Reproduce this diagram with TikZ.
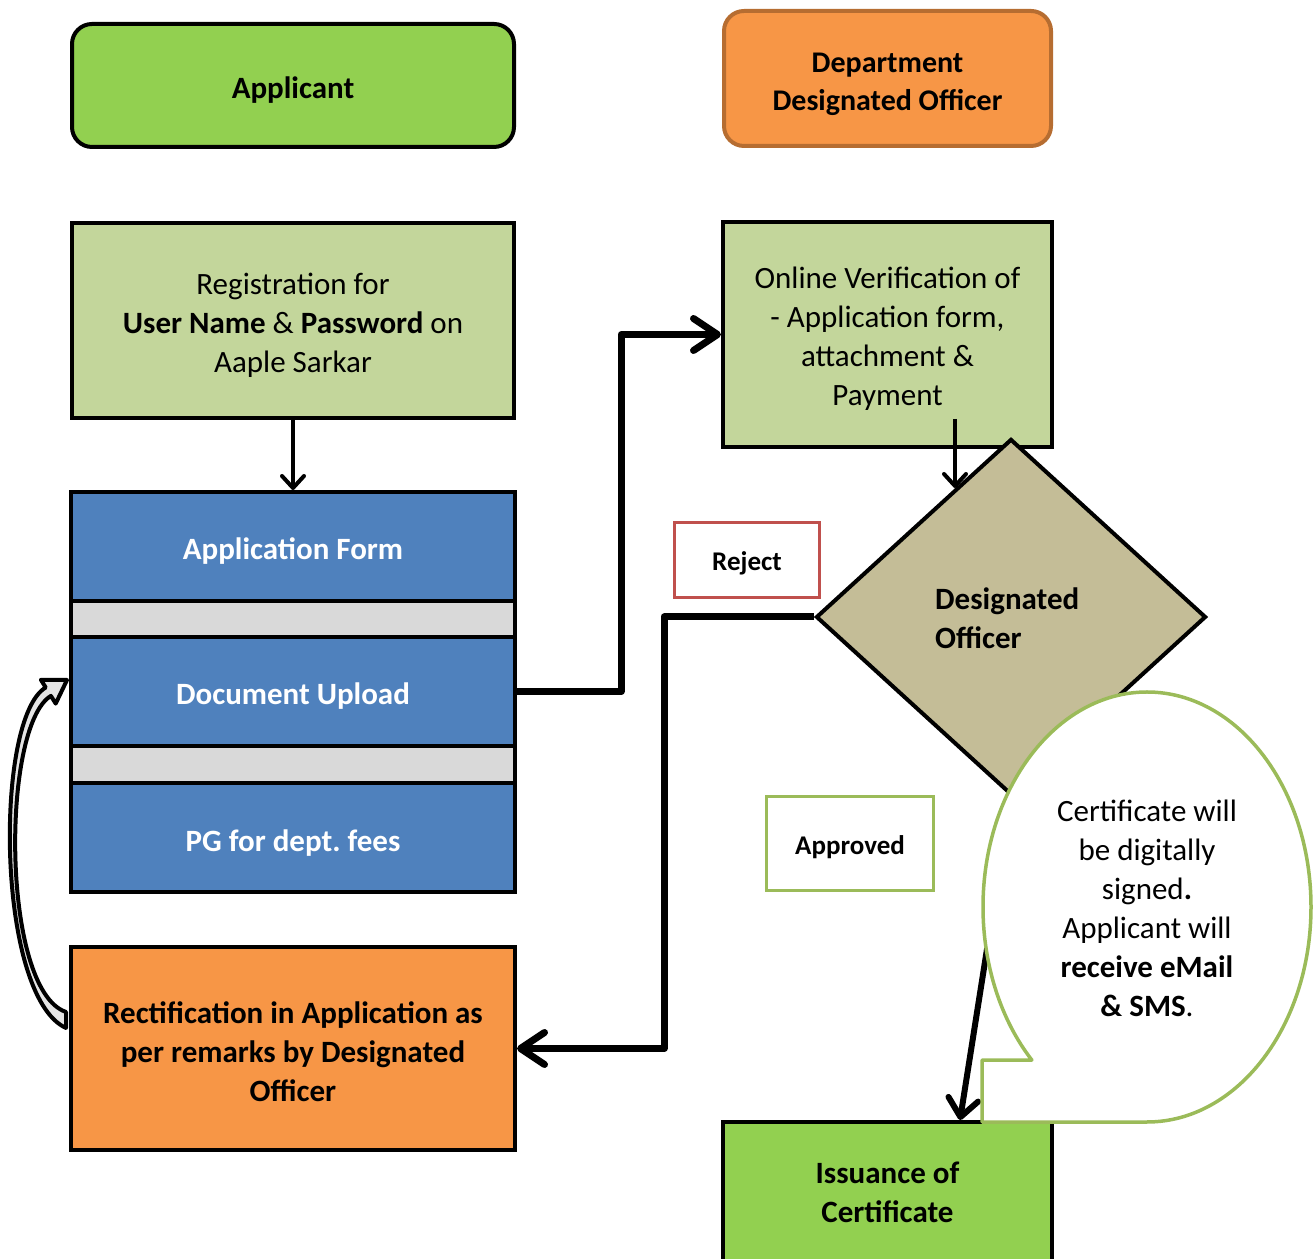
\documentclass[tikz,border=0pt]{standalone}
\usepackage{fontspec}
\setmainfont{Carlito}
\usetikzlibrary{shapes.geometric,arrows.meta,calc}
\definecolor{cgreen}{HTML}{92D050}
\definecolor{lgreen}{HTML}{C3D69B}
\definecolor{corange}{HTML}{F79646}
\definecolor{oborder}{HTML}{B66D31}
\definecolor{cblue}{HTML}{4F81BD}
\definecolor{cgray}{HTML}{D9D9D9}
\definecolor{ctan}{HTML}{C4BD97}
\definecolor{cred}{HTML}{C0504D}
\definecolor{olive}{HTML}{9BBB59}
\newcommand\myup[1][31pt]{\rule{0pt}{#1}}
\frenchspacing
\begin{document}
\begin{tikzpicture}[x=1pt,y=1pt,
  box/.style={draw=black, line width=4pt, inner sep=0pt, align=center, text=black},
  rtxt/.style={font=\fontsize{31}{39}\selectfont},
  btxt/.style={font=\fontsize{31}{39}\selectfont\bfseries},
  wtxt/.style={font=\fontsize{31}{39}\selectfont\bfseries, text=white},
  lbl/.style={draw, fill=white, inner sep=0pt, line width=3.5pt, font=\fontsize{27}{33}\selectfont\bfseries},
  conn/.style={line width=7pt, line join=round, -{Straight Barb[length=24pt,width=32pt,round]}},
  sconn/.style={line width=4pt, -{Straight Barb[length=12pt,width=22pt,round]}},
  dconn/.style={line width=6pt, -{Straight Barb[length=18pt,width=30pt,round]}},
  bubble/.style={draw=olive, fill=white, line width=3.5pt, line join=round}]
\useasboundingbox (0,0) rectangle (1316,1258);

% headers
\node[box, fill=cgreen, rounded corners=20pt, minimum width=442pt, minimum height=123pt, btxt] (applicant) at (293,1172.5) {\myup[30pt]Applicant};
\node[box, draw=oborder, fill=corange, rounded corners=20pt, minimum width=327pt, minimum height=135pt, font=\fontsize{30}{38}\selectfont\bfseries] (dept) at (887.5,1179.5) {\myup[32pt]Department\\Designated Officer};

% left column
\node[box, fill=lgreen, minimum width=442pt, minimum height=195pt, rtxt] (reg) at (293,937.5) {\myup Registration for\\\textbf{User Name} \& \textbf{Password} on\\Aaple Sarkar};
\node[box, fill=cblue, minimum width=444pt, minimum height=109pt, wtxt] (appform) at (293,711.5) {\myup Application Form};
\node[box, fill=cgray, minimum width=444pt, minimum height=36pt] (gray1) at (293,639) {};
\node[box, fill=cblue, minimum width=444pt, minimum height=109pt, wtxt] (docup) at (293,566.5) {\myup Document Upload};
\node[box, fill=cgray, minimum width=444pt, minimum height=37pt] (gray2) at (293,493.5) {};
\node[box, fill=cblue, minimum width=444pt, minimum height=109pt, wtxt] (pg) at (293,420.5) {\myup[33pt]PG for dept. fees};
\node[box, fill=corange, minimum width=444pt, minimum height=203pt, btxt] (rect) at (293,209.5) {\myup[28pt]Rectification in Application as\\per remarks by Designated\\Officer};

% right column
\node[box, fill=lgreen, minimum width=329pt, minimum height=225pt, rtxt] (onl) at (887.5,923.5) {\myup[30pt]Online Verification of\\- Application form,\\attachment \&\\Payment};
\node[box, fill=ctan, shape=diamond, minimum width=390pt, minimum height=356pt] (dia) at (1011,641) {};
\node[btxt, anchor=west, align=left, inner sep=0pt] (diatext) at (935,639.5) {Designated\\Officer};
\node[lbl, draw=cred, minimum width=145pt, minimum height=75pt] (reject) at (747,698) {\myup[26.5pt]Reject};
\node[lbl, draw=olive, minimum width=167pt, minimum height=94pt] (approved) at (850,414.5) {\myup[26.5pt]Approved};
\node[box, fill=cgreen, minimum width=329pt, minimum height=140pt, font=\fontsize{31}{39}\selectfont\bfseries] (issue) at (887.5,66) {Issuance of\\Certificate};

% connectors
\draw[sconn] (reg.south) -- (appform.north);
\draw[conn] (docup.east) -- ++(104,0) |- (onl.west);
\draw[sconn] ([xshift=67.5pt,yshift=30pt]onl.south) -- ([xshift=-56pt,yshift=-51pt]dia.north);
\draw[conn] (dia.west) -- ++(-150,0) |- (rect.east);
\draw[dconn] (dia.south) -- ([xshift=72.5pt]issue.north);

% curved return arrow (from Rectification back to Document Upload)
\draw[line width=4pt, fill=cgray!70, line join=round]
  (66,230) .. controls (-4,262) and (-6,540) .. (45.7,570.5) -- (40.9,578.2) -- (67,578)
  -- (55.7,554.4) -- (50.9,562.1) .. controls (1,532) and (1,268) .. (66,246) -- cycle;

% speech bubble
\draw[bubble] (1147,136) arc[start angle=-90, end angle=225.4, x radius=164, y radius=215]
  -- (982,198) -- (982,136) -- cycle;
\node[rtxt, align=center, inner sep=0pt] (bubtext) at (1147,349.5) {Certificate will\\be digitally\\signed\textbf{.}\\Applicant will\\\textbf{receive eMail}\\\textbf{\& SMS}.};
\end{tikzpicture}
\end{document}
